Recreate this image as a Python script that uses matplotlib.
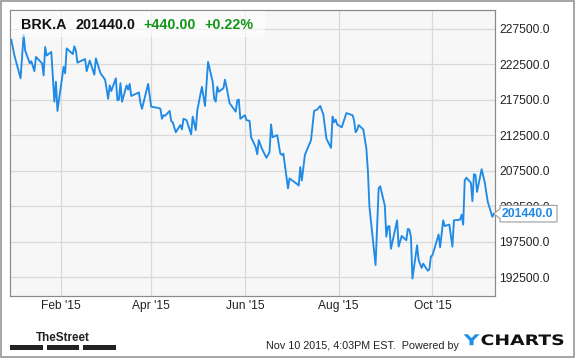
import matplotlib
matplotlib.use("Agg")
import matplotlib.pyplot as plt
import matplotlib.dates as mdates
import pandas as pd
from matplotlib.patches import Rectangle, Polygon, PathPatch
from matplotlib.transforms import IdentityTransform, Affine2D
from matplotlib.textpath import TextPath
from matplotlib.font_manager import FontProperties

# ---------------- data ----------------
ticker = "BRK.A"
last_price_text = "201440.0"
change_text = "+440.00"
change_pct_text = "+0.22%"
footer_text = "Nov 10 2015, 4:03PM EST.  Powered by"
brand_left = "TheStreet"
brand_right_a = "Y"
brand_right_b = "CHARTS"

dates = [
    "2014-12-31", "2015-01-02", "2015-01-06", "2015-01-08", "2015-01-09", "2015-01-12",
    "2015-01-13", "2015-01-15", "2015-01-16", "2015-01-20", "2015-01-21", "2015-01-22",
    "2015-01-23", "2015-01-26", "2015-01-28", "2015-01-29", "2015-01-30", "2015-02-03",
    "2015-02-04", "2015-02-05", "2015-02-09", "2015-02-10", "2015-02-11", "2015-02-12",
    "2015-02-17", "2015-02-18", "2015-02-20", "2015-02-23", "2015-02-24", "2015-02-27",
    "2015-03-02", "2015-03-04", "2015-03-05", "2015-03-06", "2015-03-09", "2015-03-10",
    "2015-03-11", "2015-03-12", "2015-03-13", "2015-03-16", "2015-03-17", "2015-03-18",
    "2015-03-19", "2015-03-23", "2015-03-24", "2015-03-25", "2015-03-26", "2015-03-30",
    "2015-04-01", "2015-04-06", "2015-04-07", "2015-04-08", "2015-04-09", "2015-04-10",
    "2015-04-13", "2015-04-14", "2015-04-15", "2015-04-17", "2015-04-19", "2015-04-20",
    "2015-04-21", "2015-04-22", "2015-04-24", "2015-04-27", "2015-04-28", "2015-04-30",
    "2015-05-01", "2015-05-04", "2015-05-06", "2015-05-08", "2015-05-11", "2015-05-12",
    "2015-05-13", "2015-05-14", "2015-05-15", "2015-05-18", "2015-05-19", "2015-05-20",
    "2015-05-22", "2015-05-26", "2015-05-27", "2015-05-28", "2015-05-29", "2015-06-01",
    "2015-06-02", "2015-06-04", "2015-06-05", "2015-06-08", "2015-06-09", "2015-06-10",
    "2015-06-12", "2015-06-15", "2015-06-17", "2015-06-18", "2015-06-19", "2015-06-22",
    "2015-06-24", "2015-06-25", "2015-06-26", "2015-06-29", "2015-06-30", "2015-07-05",
    "2015-07-06", "2015-07-07", "2015-07-08", "2015-07-10", "2015-07-13", "2015-07-14",
    "2015-07-16", "2015-07-18", "2015-07-20", "2015-07-22", "2015-07-24", "2015-07-27",
    "2015-07-28", "2015-07-29", "2015-07-30", "2015-07-31", "2015-08-03", "2015-08-06",
    "2015-08-10", "2015-08-11", "2015-08-12", "2015-08-13", "2015-08-14", "2015-08-17",
    "2015-08-19", "2015-08-20", "2015-08-21", "2015-08-25", "2015-08-27", "2015-08-28",
    "2015-08-31", "2015-09-01", "2015-09-02", "2015-09-03", "2015-09-04", "2015-09-08",
    "2015-09-09", "2015-09-11", "2015-09-14", "2015-09-15", "2015-09-16", "2015-09-17",
    "2015-09-18", "2015-09-21", "2015-09-22", "2015-09-24", "2015-09-25", "2015-09-28",
    "2015-09-29", "2015-09-30", "2015-10-01", "2015-10-02", "2015-10-05", "2015-10-06",
    "2015-10-08", "2015-10-09", "2015-10-12", "2015-10-14", "2015-10-15", "2015-10-19",
    "2015-10-20", "2015-10-21", "2015-10-22", "2015-10-23", "2015-10-26", "2015-10-27",
    "2015-10-28", "2015-10-29", "2015-10-30", "2015-11-02", "2015-11-04", "2015-11-06",
    "2015-11-09", "2015-11-10",
]
prices = [
    225900, 223700, 220500, 226600, 224400, 222600,
    222900, 221500, 223500, 222600, 220900, 224900,
    223700, 224200, 217200, 220000, 215900, 222100,
    221200, 224700, 223900, 225000, 224400, 222700,
    223200, 221500, 223000, 221000, 223300, 221200,
    220300, 217600, 219500, 218700, 220500, 217400,
    217500, 219800, 217200, 219500, 218900, 219700,
    218000, 218400, 218500, 217000, 216200, 219700,
    216500, 216300, 216200, 214800, 215300, 215200,
    215900, 214500, 214300, 212900, 213600, 213900,
    213300, 214800, 214600, 212600, 215100, 213200,
    216000, 219300, 216600, 222800, 220000, 217600,
    217200, 219300, 218600, 219100, 220300, 219300,
    217000, 215800, 217400, 217500, 214800, 215300,
    214600, 214500, 212200, 210800, 209800, 211800,
    210600, 209300, 210100, 214000, 212200, 212500,
    209900, 209700, 209900, 205000, 206400, 205600,
    205400, 208000, 206100, 209700, 211300, 211800,
    215900, 216100, 216600, 215400, 212000, 210700,
    215100, 214300, 214700, 214000, 213600, 215600,
    215300, 214600, 212900, 213200, 213900, 213300,
    210600, 207500, 202400, 194200, 205000, 205300,
    202600, 198200, 199600, 199700, 196500, 200500,
    196800, 198300, 197700, 199300, 199200, 198200,
    192300, 197000, 194900, 193800, 194400, 193400,
    193600, 195400, 195600, 196300, 198500, 196700,
    200500, 199700, 199900, 196800, 200500, 200600,
    201300, 199900, 206100, 206500, 205800, 203200,
    207000, 206900, 204500, 207700, 205900, 203100,
    201000, 201440,
]
y_ticks = [192500, 197500, 202500, 207500, 212500, 217500, 222500, 227500]
x_tick_dates = ["2015-02-01", "2015-04-01", "2015-06-01", "2015-08-01", "2015-10-01"]
x_tick_labels = ["Feb '15", "Apr '15", "Jun '15", "Aug '15", "Oct '15"]

# ---------------- style ----------------
plt.rcParams["font.family"] = ["Liberation Sans", "DejaVu Sans"]
W, H = 575, 358
LINE = "#1f8be6"
GREEN = "#14961a"
PT = 0.72  # points per pixel at dpi 100

fig = plt.figure(figsize=(W / 100, H / 100), dpi=100)
fig.patch.set_facecolor("white")

def fx(x):
    return x / W

def fy(y):
    return 1 - y / H

ax_l, ax_r, ax_t, ax_b = 10, 495, 10.2, 295.5
ax = fig.add_axes([fx(ax_l), fy(ax_b), (ax_r - ax_l) / W, (ax_b - ax_t) / H])
ax.set_facecolor("#f7f7f7")

x = pd.to_datetime(dates)
ax.plot(x, prices, color=LINE, lw=1.35, solid_joinstyle="round", zorder=3)

ax.set_xlim(pd.Timestamp("2014-12-30 03:00"), pd.Timestamp("2015-11-10 17:00"))
ax.set_ylim(189920, 230080)

ax.set_xticks(pd.to_datetime(x_tick_dates))
ax.set_xticklabels(x_tick_labels)
ax.set_yticks(y_ticks)
ax.set_yticklabels([f"{v:.1f}" for v in y_ticks])
ax.yaxis.tick_right()
ax.tick_params(axis="both", length=0, labelsize=12 * PT, colors="#222222")
ax.tick_params(axis="x", pad=4.2 * PT)
ax.tick_params(axis="y", pad=4.5 * PT)
ax.grid(True, color="#d9d9d9", lw=1.2 * PT, zorder=0)
ax.set_axisbelow(True)
for s in ax.spines.values():
    s.set_color("#8a8a8a")
    s.set_linewidth(1.2 * PT)

# header box
fig.add_artist(Rectangle((fx(ax_l + 0.5), fy(36.7)), (264 - ax_l) / W, (36.7 - ax_t - 0.5) / H,
                         transform=fig.transFigure, facecolor="white", alpha=0.6,
                         edgecolor="none", zorder=4))
hdr_fs = 14.3 * PT
fig.text(fx(21.5), fy(28.6), ticker, fontsize=hdr_fs, fontweight="bold", color="#111", zorder=5)
fig.text(fx(75), fy(28.6), last_price_text, fontsize=hdr_fs, fontweight="bold", color="#111", zorder=5)
fig.text(fx(143.3), fy(28.6), change_text, fontsize=hdr_fs, fontweight="bold", color=GREEN, zorder=5)
fig.text(fx(204), fy(28.6), change_pct_text, fontsize=hdr_fs, fontweight="bold", color=GREEN, zorder=5)

# price callout
tx, ty = ax.transData.transform((mdates.date2num(x[-1]), prices[-1]))
tx = ax_r - 1
hh = 8.3
pts = [(tx, ty), (tx + 6, ty + 5), (tx + 6, ty + hh), (557, ty + hh),
       (557, ty - hh), (tx + 6, ty - hh), (tx + 6, ty - 5)]
fig.add_artist(Polygon(pts, closed=True, transform=IdentityTransform(), facecolor="white",
                       edgecolor="#9a9a9a", lw=1.1 * PT, zorder=6))
fig.text(502, ty, last_price_text, transform=IdentityTransform(), fontsize=12.2 * PT,
         fontweight="bold", color=LINE, va="center", ha="left", zorder=7)

# footer
fig.text(fx(459), fy(349), footer_text, fontsize=10.7 * PT, color="#222", ha="right",
         va="baseline")
fig.text(fx(62.5), fy(340.9), brand_left, fontsize=11.6 * PT, fontweight="bold", color="#222",
         ha="center", va="baseline")
for x0, x1 in [(10, 43.3), (46.7, 79), (83.3, 116)]:
    fig.add_artist(Rectangle((fx(x0), fy(350.3)), (x1 - x0) / W, 5 / H,
                             transform=fig.transFigure, facecolor="#222", edgecolor="none"))

# YCHARTS logo as stretched text paths
logo_prop = FontProperties(family="DejaVu Sans", weight="bold")

def stretched_text(s, x0, x1, y_top, y_bot, color):
    tp = TextPath((0, 0), s, size=100, prop=logo_prop)
    ext = tp.get_extents()
    sx = (x1 - x0) / ext.width
    sy = (y_bot - y_top) / ext.height
    tr = (Affine2D().translate(-ext.x0, -ext.y0).scale(sx, sy)
          .translate(x0, H - y_bot))
    fig.add_artist(PathPatch(tr.transform_path(tp), transform=IdentityTransform(),
                             facecolor=color, edgecolor="none"))

stretched_text(brand_right_a, 463.5, 479.5, 334.3, 345.2, "#1e90e8")
stretched_text(brand_right_b, 481.5, 563.3, 334.3, 345.2, "#111111")

# outer frame
fig.add_artist(Rectangle((0.75 / W, 0.75 / H), (W - 1.5) / W, (H - 1.5) / H,
                         transform=fig.transFigure, facecolor="none",
                         edgecolor="#8a8a8a", lw=1.5 * PT))

fig.savefig("out.png", dpi=100)
